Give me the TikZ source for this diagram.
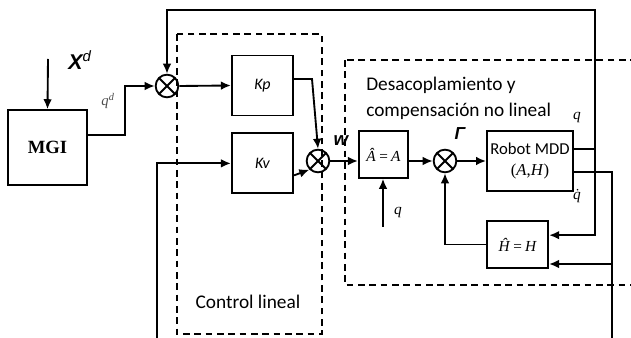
\documentclass[tikz,border=0pt]{standalone}
\usepackage{fontspec}
\setmainfont{Carlito}
\newfontfamily\timesfont{Liberation Serif}
\newfontfamily\arialfont{Liberation Sans}
\usetikzlibrary{arrows.meta, positioning}

\begin{document}
\begin{tikzpicture}[
  x=0.75pt, y=-0.75pt,
  box/.style={draw, line width=1.4pt, minimum width=46pt, minimum height=45pt, align=center, inner sep=1pt},
  suma/.style={draw, circle, line width=1.4pt, minimum size=17pt, inner sep=0pt,
    path picture={\draw[line width=1.4pt] (path picture bounding box.north west) -- (path picture bounding box.south east)
      (path picture bounding box.north east) -- (path picture bounding box.south west);}},
  zona/.style={draw, line width=1.2pt, dash pattern=on 5pt off 3.5pt},
  flujo/.style={line width=1.4pt, ->},
  linea/.style={line width=1.4pt},
  mate/.style={font=\timesfont\itshape\fontsize{11.5}{13}\selectfont},
  >={Latex[length=7.5pt,width=6.5pt]}
]
\useasboundingbox (0,0) rectangle (631,338);

% Zonas punteadas
\draw[zona] (177,34) rectangle (322,334);
\draw[zona] (345,60) rectangle (640,285);
\node[font=\fontsize{14.5}{17}\selectfont] (ctxt) at (248,302) {Control lineal};
\node[font=\fontsize{14.5}{19.5}\selectfont, align=left, anchor=north west, inner sep=0pt] (dtxt) at (366,77)
  {Desacoplamiento y\\compensación no lineal};

% Bloques
\node[box, minimum width=59pt, minimum height=56pt, font=\timesfont\bfseries\fontsize{14}{16}\selectfont] (mgi) at (47.5,147.5) {MGI};
\node[suma] (s1) at (167,86) {};
\node[box, font=\itshape\fontsize{12}{14}\selectfont] (kp) at (262.5,85.5) {Kp};
\node[box, below=12pt of kp, font=\itshape\fontsize{12}{14}\selectfont] (kv) {Kv};
\node[suma] (s2) at (318,161) {};
\node[box, mate, minimum width=37pt, minimum height=35pt] (ahat) at (383.5,154.5) {Â\,=\,A};
\node[suma] (s3) at (445,161) {};
\node[box, minimum width=64.5pt, minimum height=45pt, font=\fontsize{12.5}{16}\selectfont] (robot) at (530,161)
  {Robot MDD\\{\timesfont(\textit{A},\textit{H})}};
\node[box, mate, minimum width=46pt, minimum height=35pt] (hhat) at (517.5,244.5) {Ĥ\,=\,H};

% Puntos de paso
\coordinate (xd)  at (48,59);
\coordinate (mq)  at (125,135);
\coordinate (kpc) at (312,79);
\coordinate (qa)  at (383,227);
\coordinate (tr)  at (595,10);
\coordinate (qn)  at (595,149);
\coordinate (qdb) at (612,264);
\coordinate (fb1) at (157,342);
\coordinate (fb2) at (612,342);

% Etiquetas
\node[font=\arialfont\bfseries\itshape\fontsize{16}{18}\selectfont] (xdl) at (80,60) {X\textsuperscript{\mdseries d}};
\node[font=\timesfont\itshape\fontsize{11}{12}\selectfont, text=gray!60!black] (qdl) at (108,101) {q\textsuperscript{d}};
\node[font=\arialfont\bfseries\itshape\fontsize{14}{16}\selectfont] (wl) at (341,141) {w};
\node[font=\arialfont\bfseries\itshape\fontsize{13}{15}\selectfont] (gl) at (460,134) {Γ};
\node[mate] (ql1) at (398,213) {q};
\node[mate] (ql2) at (577,118) {q};
\node[mate] (ql3) at (577,196) {\.{q}};

% Flujo principal
\draw[flujo] (xd) -- (mgi.north);
\draw[flujo] ([yshift=9.4pt]mgi.east) -- (mq) |- (s1.west);
\draw[flujo] (s1.east) -- (kp.west);
\draw[flujo] ([yshift=4.9pt]kp.east) -- (kpc) -- (s2.north);
\draw[flujo] ([yshift=-9pt]kv.east) -- (s2.south west);
\draw[flujo] (s2.east) -- (s2 -| ahat.west);
\draw[flujo] (qa) -- (qa |- ahat.south);
\draw[flujo] (ahat.east |- s3) -- (s3.west);
\draw[flujo] (s3.east) -- (robot.west);
\draw[flujo] (hhat.west) -| (s3.south);

% Salidas del robot y realimentacion
\draw[linea] ([yshift=9pt]robot.east) -- (qn);
\draw[flujo] (qn) -- (tr) -| (s1.north);
\draw[flujo] (qn) |- ([yshift=7pt]hhat.east);
\draw[linea] ([yshift=-8.5pt]robot.east) -| (fb2);
\draw[flujo] (qdb) -- (qdb -| hhat.east);
\draw[flujo] (fb1) |- (kv.west);

\end{tikzpicture}
\end{document}
